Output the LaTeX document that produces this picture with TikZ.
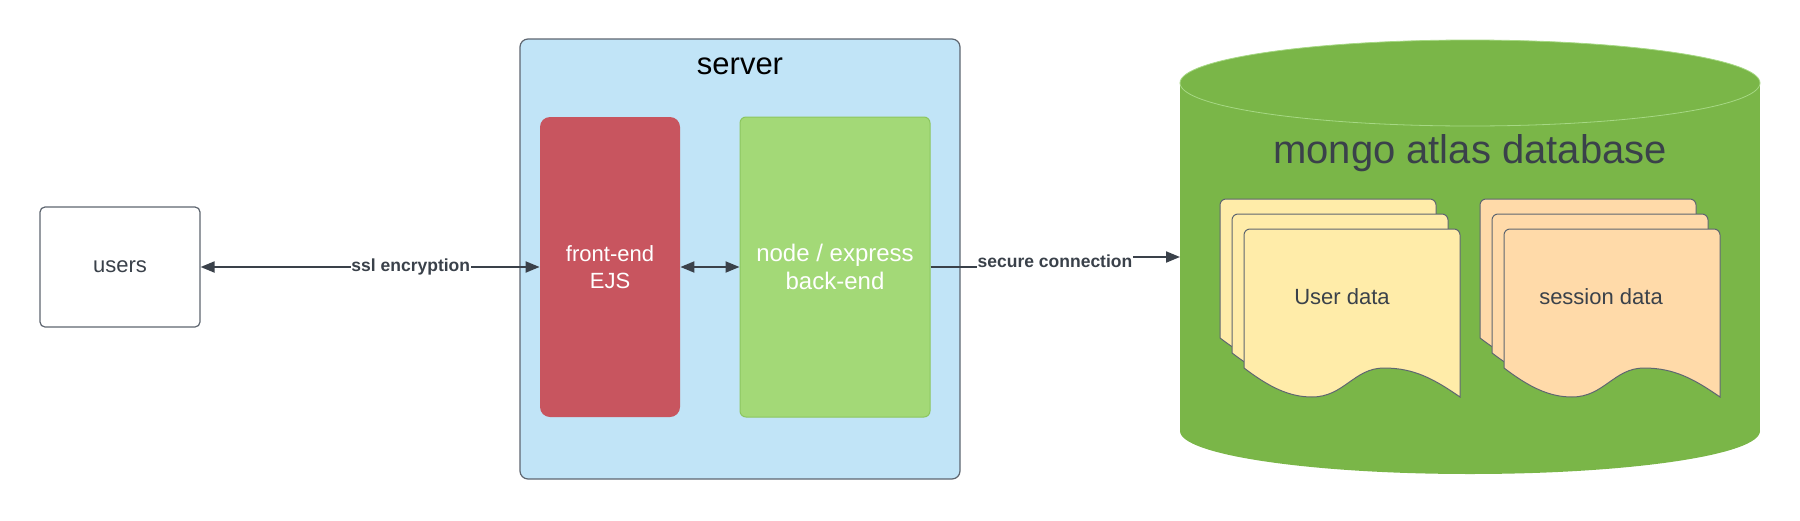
\documentclass[tikz,border=0pt]{standalone}
\usepackage{fontspec}
\setmainfont{Liberation Sans}
\usetikzlibrary{arrows.meta}

\definecolor{serverblue}{HTML}{C1E4F7}
\definecolor{frontred}{HTML}{C8555F}
\definecolor{backgreen}{HTML}{A3D977}
\definecolor{backedge}{HTML}{8CC660}
\definecolor{dbgreen}{HTML}{7AB648}
\definecolor{dbrim}{HTML}{A6D884}
\definecolor{userdoc}{HTML}{FFECA9}
\definecolor{sessdoc}{HTML}{FFDAA9}
\definecolor{linegray}{HTML}{3A414A}
\definecolor{edgegray}{HTML}{5E6670}

\begin{document}
\begin{tikzpicture}[x=0.5pt, y=-0.5pt,
    box/.style={draw=edgegray, line width=0.6pt, rounded corners=2.5pt, align=center},
    conn/.style={draw=linegray, line width=1pt},
    tip/.style={-{Triangle[length=7pt,width=5.5pt]}},
    dbltip/.style={{Triangle[length=7pt,width=5.5pt]}-{Triangle[length=7pt,width=5.5pt]}},
    lbl/.style={font=\bfseries\fontsize{8.75}{10}\selectfont, text=linegray, fill=white, inner sep=0.3pt},
    doctext/.style={font=\fontsize{11}{13}\selectfont, text=linegray}]

    \useasboundingbox (0,0) rectangle (1800,520);

    % users
    \node[box, fill=white, minimum width=80pt, minimum height=60pt,
          font=\fontsize{11}{13}\selectfont, text=linegray] (users) at (120,267) {users};

    % server with front-end and back-end
    \node[box, fill=serverblue, rounded corners=4pt, minimum width=220pt, minimum height=220pt] (server) at (740,259) {};
    \node[font=\fontsize{15.5}{18}\selectfont] (servertitle) at (740,66) {server};

    \node[fill=frontred, rounded corners=5pt, minimum width=70pt, minimum height=150pt,
          text=white, align=center, font=\fontsize{11}{13.5}\selectfont] (front) at (610,267) {front-end\\EJS};
    \node[draw=backedge, line width=0.5pt, fill=backgreen, rounded corners=3pt, minimum width=95pt, minimum height=150pt,
          text=white, align=center, font=\fontsize{12}{14}\selectfont] (back) at (835,267) {node / express\\back-end};

    % database cylinder
    \fill[dbgreen] (1180,83) rectangle (1760,431);
    \fill[dbgreen] (1470,431) ellipse [x radius=145pt, y radius=21.5pt];
    \fill[dbgreen] (1470,83) ellipse [x radius=145pt, y radius=21.5pt];
    \draw[dbrim, line width=0.4pt] (1470,83) ellipse [x radius=145pt, y radius=21.5pt];
    \node[font=\fontsize{20}{24}\selectfont, text=linegray] (dbtitle) at (1470,153) {mongo atlas database};

    % document stacks
    \foreach \L/\col in {1220/userdoc, 1480/sessdoc}
      \foreach \k in {0,1,2} {
        \pgfmathsetmacro\x{\L+12*\k}
        \pgfmathsetmacro\y{199+15*\k}
        \draw[draw=edgegray, line width=0.5pt, fill=\col]
          (\x,\y+139) [rounded corners=3pt] -- (\x,\y) -- (\x+216,\y) [sharp corners] -- (\x+216,\y+168)
          .. controls (\x+190,\y+150) and (\x+170,\y+139) .. (\x+140,\y+139)
          .. controls (\x+110,\y+139) and (\x+100,\y+168) .. (\x+68,\y+168)
          .. controls (\x+45,\y+168) and (\x+25,\y+158) .. (\x,\y+139) -- cycle;
      }
    \node[doctext] (userdata) at (1342,297) {User data};
    \node[doctext] (sessiondata) at (1601,297) {session data};

    % connections
    \draw[conn, dbltip] (users) -- node[lbl, pos=0.62] (ssl) {ssl encryption} (front);
    \draw[conn, dbltip] (front) -- (back);

    \coordinate (dbin) at (1180,257);
    \node[lbl] (secure) at (1055,261) {secure connection};
    \draw[conn] (back.east) -- (secure.west |- back.east);
    \draw[conn, tip] (secure.east |- dbin) -- (dbin);

\end{tikzpicture}
\end{document}
